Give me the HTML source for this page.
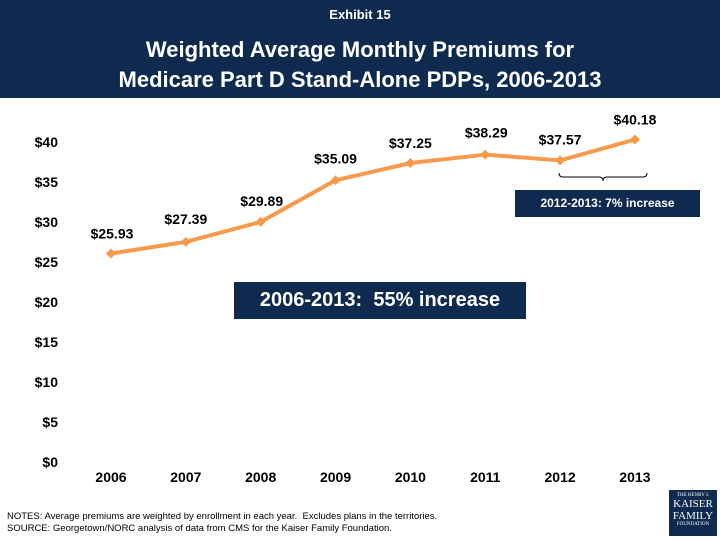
<!DOCTYPE html>
<html><head><meta charset="utf-8"><style>
body{margin:0;width:720px;height:540px;background:#fff;font-family:"Liberation Sans",sans-serif;overflow:hidden;position:relative}
#hdr{position:absolute;left:0;top:0;width:720px;height:98px;background:#0e2a4f;color:#fff;text-align:center}
#hdr .ex{font-size:13px;font-weight:bold;position:absolute;top:7px;width:100%}
#hdr .tt{font-size:22px;font-weight:bold;position:absolute;top:35px;width:100%;line-height:30px}
.box{position:absolute;background:#0e2a4f;color:#fff;font-weight:bold;text-align:center}
.notes{position:absolute;left:7px;top:511px;font-size:9.5px;line-height:12px;color:#000}
#logo{position:absolute;left:669px;top:490px;width:48px;height:46px;background:#0e2a4f;color:#fff;text-align:center;font-family:"Liberation Serif",serif}
</style></head><body>
<div id="hdr">
<div class="ex">Exhibit 15</div>
<div class="tt">Weighted Average Monthly Premiums for<br>Medicare Part D Stand-Alone PDPs, 2006-2013</div>
</div>
<svg id="chart" width="720" height="540" style="position:absolute;left:0;top:0"></svg>
<div class="box" style="left:234px;top:282px;width:292px;height:37px;line-height:37px;font-size:20px">2006-2013:&nbsp; 55% increase</div>
<div class="box" style="left:515px;top:190px;width:185px;height:27px;line-height:27px;font-size:12px">2012-2013: 7% increase</div>
<div class="notes">NOTES: Average premiums are weighted by enrollment in each year.&nbsp; Excludes plans in the territories.<br>SOURCE: Georgetown/NORC analysis of data from CMS for the Kaiser Family Foundation.</div>
<div id="logo"><div style="font-size:5px;margin-top:3px">THE HENRY J.</div><div style="font-size:11px;line-height:12px">KAISER<br>FAMILY</div><div style="font-size:5px">FOUNDATION</div></div>
<script>
const years=["2006","2007","2008","2009","2010","2011","2012","2013"];
const premiums=[25.93,27.39,29.89,35.09,37.25,38.29,37.57,40.18];
const valueLabels=["$25.93","$27.39","$29.89","$35.09","$37.25","$38.29","$37.57","$40.18"];
const yTicks=[0,5,10,15,20,25,30,35,40];
const labelDx=[1,0,1,0,0,1,0,0];
const labelDy=[-15,-18,-16,-17,-15,-17,-16,-15];
const NS="http://www.w3.org/2000/svg";
const svg=document.getElementById('chart');
const x=i=>111+i*74.85;
const y=v=>461-v*8;
function mk(t,a){const e=document.createElementNS(NS,t);for(const k in a)e.setAttribute(k,a[k]);svg.appendChild(e);return e;}
yTicks.forEach(v=>{const t=mk('text',{x:58,y:y(v)+6,'text-anchor':'end','font-size':14,'font-weight':'bold'});t.textContent='$'+v;

});
years.forEach((yr,i)=>{const t=mk('text',{x:x(i),y:482,'text-anchor':'middle','font-size':14,'font-weight':'bold'});t.textContent=yr;

});
const p=mk('polyline',{points:premiums.map((v,i)=>x(i)+','+y(v)).join(' '),fill:'none',stroke:'#f79a4c','stroke-width':4,'stroke-linejoin':'round'});


premiums.forEach((v,i)=>{const cx=x(i),cy=y(v);
const d=mk('polygon',{points:`${cx},${cy-5} ${cx+5},${cy} ${cx},${cy+5} ${cx-5},${cy}`,fill:'#f79a4c'});

});
premiums.forEach((v,i)=>{const cx=x(i),cy=y(v);
const t=mk('text',{x:cx+labelDx[i],y:cy+labelDy[i],'text-anchor':'middle','font-size':14,'font-weight':'bold'});t.textContent=valueLabels[i];

});
const b=mk('path',{d:'M559,173 q0,4 4,4 h36 q4,0 4,4 q0,-4 4,-4 h36 q4,0 4,-4',fill:'none',stroke:'#000','stroke-width':1});


</script>
</body></html>
